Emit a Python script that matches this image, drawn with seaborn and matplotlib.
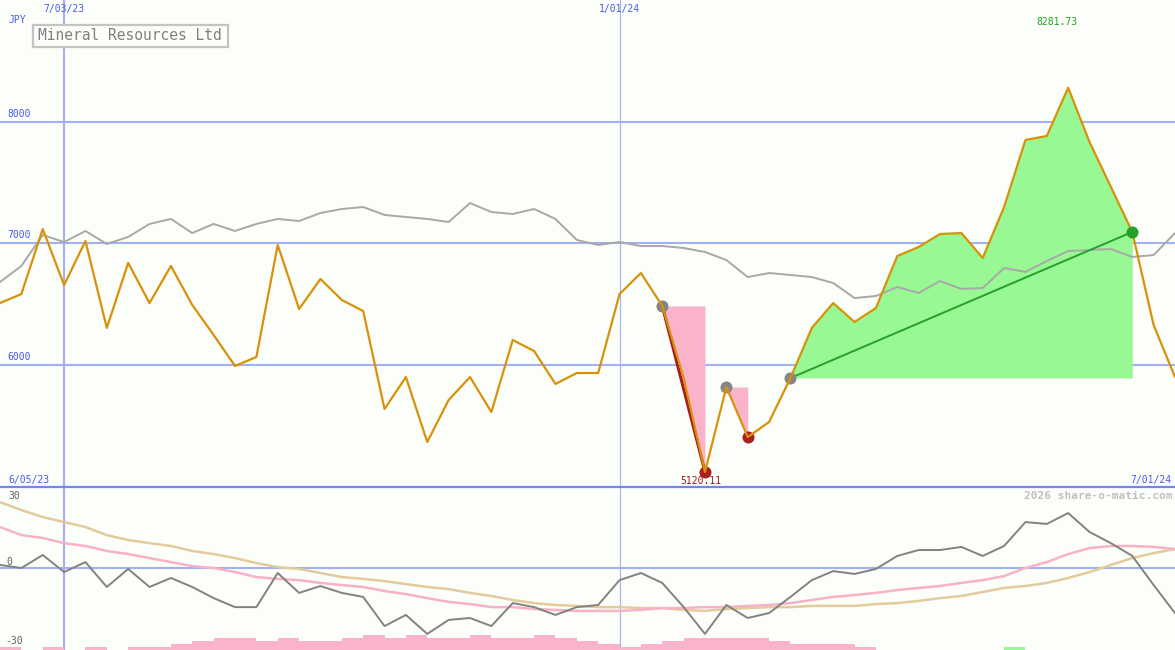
import matplotlib
matplotlib.use("Agg")
import matplotlib.pyplot as plt
import matplotlib.patches as mpatches
import seaborn as sns
import pandas as pd

# Weekly closes, Mineral Resources Ltd (JPY)
dates = pd.date_range("2023-06-12", periods=56, freq="7D")

price = [6510, 6584, 7119, 6658, 7021, 6305, 6840, 6510, 6815, 6494,
         6247, 5992, 6066, 6988, 6461, 6708, 6535, 6444, 5638, 5901,
         5366, 5712, 5901, 5613, 6206, 6115, 5844, 5934, 5934, 6584,
         6757, 6486, 5893, 5120.11, 5819, 5407, 5531, 5893, 6305, 6510,
         6354, 6469, 6897, 6971, 7078, 7086, 6881, 7300, 7852, 7885,
         8281.73, 7835, 7465, 7095, 6329, 5901]

moving_avg = [6683, 6815, 7070, 7012, 7103, 6996, 7054, 7161, 7202, 7086,
              7161, 7103, 7161, 7202, 7185, 7251, 7284, 7300, 7235, 7218,
              7202, 7177, 7333, 7259, 7243, 7284, 7202, 7029, 6988, 7012,
              6979, 6979, 6963, 6930, 6864, 6724, 6757, 6741, 6724, 6675,
              6551, 6568, 6642, 6593, 6691, 6626, 6634, 6798, 6766, 6856,
              6938, 6946, 6955, 6889, 6905, 7086]

# lower panel oscillator and its two smoothed lines
osc = [1.3, 0, 5.5, -1.7, 2.5, -8.0, -0.4, -8.0, -4.2, -8.0,
       -12.7, -16.5, -16.5, -2.1, -10.5, -7.6, -10.5, -12.2, -24.5, -19.8,
       -27.8, -21.9, -21.1, -24.5, -14.8, -16.5, -19.8, -16.5, -15.6, -5.1,
       -2.1, -6.3, -16.5, -27.8, -15.6, -21.1, -19.0, -12.2, -5.1, -1.3,
       -2.5, -0.4, 5.1, 7.6, 7.6, 8.9, 5.1, 9.3, 19.4, 18.6,
       23.2, 15.2, 10.5, 5.1, -7.2, -19.0]

osc_fast = [17.3, 13.9, 12.7, 10.5, 9.3, 7.2, 5.9, 4.2, 2.5, 0.8,
            0, -1.7, -3.8, -4.6, -5.1, -6.3, -7.2, -8.0, -9.7, -11.0,
            -12.7, -14.3, -15.2, -16.5, -16.5, -17.3, -17.7, -18.1, -18.1, -18.1,
            -17.7, -16.9, -16.9, -16.5, -16.5, -16.0, -15.6, -14.8, -13.5, -12.2,
            -11.4, -10.5, -9.3, -8.4, -7.6, -6.3, -5.1, -3.4, 0, 2.5,
            5.9, 8.4, 9.3, 9.3, 8.9, 8.0]

osc_slow = [27.8, 24.5, 21.5, 19.4, 17.3, 13.9, 11.8, 10.5, 9.3, 7.2,
            5.9, 4.2, 2.1, 0.4, -0.4, -2.1, -3.8, -4.6, -5.5, -6.8,
            -8.0, -8.9, -10.5, -11.8, -13.5, -14.8, -15.6, -16.0, -16.5, -16.5,
            -16.9, -16.9, -17.7, -18.1, -17.3, -16.9, -16.5, -16.5, -16.0, -16.0,
            -16.0, -15.2, -14.8, -13.9, -12.7, -11.8, -10.1, -8.4, -7.6, -6.3,
            -4.2, -1.7, 1.3, 4.2, 6.3, 8.0]

# small bars at the foot of the lower panel (negative = pink, positive = green)
bar_levels = [-1, 0, -1, 0, -1, 0, -1, -1, -2, -3,
              -4, -4, -3, -4, -3, -3, -4, -5, -4, -5,
              -4, -4, -5, -4, -4, -5, -4, -3, -2, -1,
              -2, -3, -4, -4, -4, -4, -3, -2, -2, -2,
              -1, 0, 0, 0, 0, 0, 0, 1, 0, 0,
              0, 0, 0, 0, 0, 0]

# highlighted moves: (start index, end index)
drops = [(31, 33), (34, 35)]
rise = (37, 53)

df = pd.DataFrame({"date": dates, "price": price, "ma": moving_avg,
                   "osc": osc, "fast": osc_fast, "slow": osc_slow,
                   "bar": bar_levels})

W, H = 1175, 650
SPLIT = 487
BG = "#fcfefa"
GRID = "#a4b0f4"
BLUE_TXT = "#4a5af0"

sns.set_theme(style="white")
plt.rcParams["font.family"] = ["DejaVu Sans Mono"]

fig = plt.figure(figsize=(W / 100, H / 100), dpi=100, facecolor=BG)
ax = fig.add_axes([0, (H - SPLIT) / H, 1, SPLIT / H], facecolor=BG)
ax2 = fig.add_axes([0, 0, 1, (H - SPLIT) / H], facecolor=BG)

x0, x1 = pd.Timestamp("2023-06-12"), pd.Timestamp("2024-07-01")
for a in (ax, ax2):
    a.set_xlim(x0, x1)
    for s in a.spines.values():
        s.set_visible(False)
    a.set_xticks([])
    a.set_yticks([])
    a.set_xlabel("")
    a.set_ylabel("")

ax.set_ylim(4996, 9004)
ax2.set_ylim(-34.6, 34.2)

# --- grid ---
for lvl in [6000, 7000, 8000]:
    ax.axhline(lvl, color=GRID, lw=1.5, zorder=1)
    ax.text(0.006, lvl + 25, str(lvl), transform=ax.get_yaxis_transform(),
            color=BLUE_TXT, fontsize=7, va="bottom", ha="left")
ax2.axhline(0, color=GRID, lw=1.5, zorder=1)
v1, v2 = pd.Timestamp("2023-07-03"), pd.Timestamp("2024-01-01")
for a in (ax, ax2):
    a.axvline(v1, color=GRID, lw=1.5, zorder=1)
    a.axvline(v2, color=GRID, lw=0.8, zorder=1)
ax2.spines["top"].set_visible(True)
ax2.spines["top"].set_color("#7484f0")
ax2.spines["top"].set_linewidth(1.6)

# --- highlighted areas ---
for i, j in drops:
    seg = df.iloc[i:j + 1]
    ax.fill_between(seg["date"], seg["price"], price[i], color="#f9b4cb",
                    lw=0, zorder=2)
seg = df.iloc[rise[0]:rise[1] + 1]
ax.fill_between(seg["date"], seg["price"], price[rise[0]], color="#98f894",
                lw=0, zorder=2)

i, j = drops[0]
ax.plot([dates[i], dates[j]], [price[i], price[j]], color="#a81c1c", lw=2.2,
        zorder=3)
ax.plot([dates[rise[0]], dates[rise[1]]], [price[rise[0]], price[rise[1]]],
        color="#28a028", lw=1.4, zorder=4)

# --- lines ---
sns.lineplot(data=df, x="date", y="ma", ax=ax, color="#a8a8a8", lw=1.4,
             zorder=3)
sns.lineplot(data=df, x="date", y="price", ax=ax, color="#d8920a", lw=1.6,
             zorder=5)

# markers
grey_pts = [drops[0][0], drops[1][0], rise[0]]
red_pts = [drops[0][1], drops[1][1]]
ax.scatter(dates[grey_pts], [price[k] for k in grey_pts], s=75,
           color="#858585", zorder=4, lw=0)
ax.scatter(dates[red_pts], [price[k] for k in red_pts], s=75,
           color="#a82020", zorder=4, lw=0)
ax.scatter([dates[rise[1]]], [price[rise[1]]], s=75, color="#28a028",
           zorder=6, lw=0)

low_i = price.index(min(price))
high_i = price.index(max(price))
ax.annotate(f"{price[low_i]:.2f}", (dates[low_i], price[low_i]),
            xytext=(-3, -3), textcoords="offset points", ha="center",
            va="top", color="#a01818", fontsize=7, zorder=7)
ax.annotate(f"{price[high_i]:.2f}", (dates[high_i], 1.0),
            xycoords=("data", "axes fraction"), xytext=(-8, -16),
            textcoords="offset points", ha="center", va="center",
            color="#20a020", fontsize=7)

# --- lower panel ---
sns.lineplot(data=df, x="date", y="slow", ax=ax2, color="#e2cb9c", lw=1.8,
             zorder=2)
sns.lineplot(data=df, x="date", y="fast", ax=ax2, color="#f8b2c8", lw=1.8,
             zorder=2)
sns.lineplot(data=df, x="date", y="osc", ax=ax2, color="#828282", lw=1.4,
             zorder=3)

ax3 = ax2.twinx()
ax3.set_ylim(0, (H - SPLIT) / 3)
ax3.set_axis_off()
bar_colors = ["#98f894" if b > 0 else "#f9b4cb" for b in bar_levels]
ax3.bar(dates, [abs(b) for b in bar_levels], width=7, align="edge",
        color=bar_colors, lw=0, zorder=1)
ax3.set_xlim(x0, x1)

for a in (ax, ax2):
    a.set_xlabel("")
    a.set_ylabel("")

# --- text ---
def fx(px):
    return px / W


def fy(py):
    return 1 - py / H


fig.text(fx(8), fy(20), "JPY", color=BLUE_TXT, fontsize=7, va="center")
ax.text(v1, 1 - 9 / SPLIT, "7/03/23", transform=ax.get_xaxis_transform(),
        color=BLUE_TXT, fontsize=7, ha="center", va="center")
ax.text(v2, 1 - 9 / SPLIT, "1/01/24", transform=ax.get_xaxis_transform(),
        color=BLUE_TXT, fontsize=7, ha="center", va="center")
fig.text(fx(8), fy(480), "6/05/23", color=BLUE_TXT, fontsize=7, va="center")
fig.text(fx(1171), fy(480), "7/01/24", color=BLUE_TXT, fontsize=7,
         va="center", ha="right")
fig.text(fx(1172), fy(496), "2026 share-o-matic.com", color="#c0c0c0",
         fontsize=8, va="center", ha="right", fontweight="bold")

fig.patches.append(mpatches.Rectangle((fx(33), fy(47)), fx(195), 22 / H,
                                      transform=fig.transFigure,
                                      facecolor=BG, edgecolor="#c4c4c4",
                                      lw=1.6, zorder=10))
fig.text(fx(130), fy(36), "Mineral Resources Ltd", color="#808080",
         fontsize=10.5, ha="center", va="center", zorder=11)

fig.text(fx(8), fy(496), "30", color="#606060", fontsize=7, va="center")
fig.text(fx(6), fy(562), "0", color="#606060", fontsize=7, va="center")
fig.text(fx(5), fy(641), "-30", color="#606060", fontsize=7, va="center")

fig.savefig("out.png", dpi=100, facecolor=BG)
